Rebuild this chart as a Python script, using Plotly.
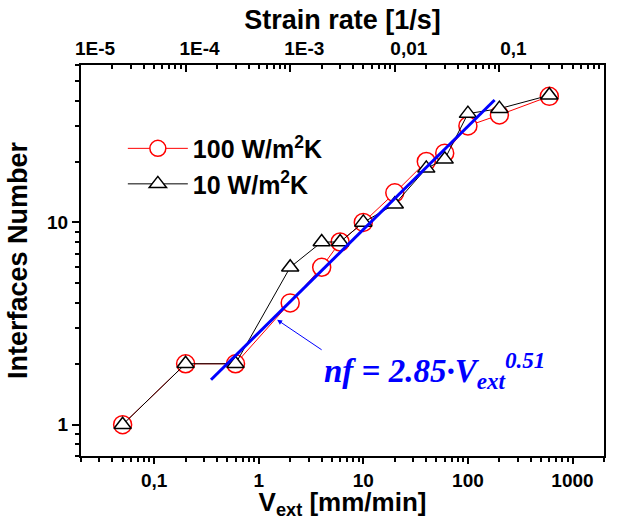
import math
import plotly.graph_objects as go

# ---- data ----
V = [0.05, 0.2, 0.6, 2, 4, 6, 10, 20, 40, 60, 100, 200, 600]
n_100 = [1, 2, 2, 4, 6, 8, 10, 14, 20, 22, 30, 34, 42]
n_10 = [1, 2, 2, 6, 8, 8, 10, 12.3, 18.5, 20.5, 34.5, 36.5, 42.5]

fit_a = 2.85
fit_b = 0.51
fit_V = [0.35, 180]
fit_n = [fit_a * v ** fit_b for v in fit_V]

bottom_ticks = [0.1, 1, 10, 100, 1000]
bottom_labels = ["0,1", "1", "10", "100", "1000"]
top_ticks = [1e-5, 1e-4, 1e-3, 1e-2, 1e-1, 1]
top_labels = ["1E-5", "1E-4", "1E-3", "0,01", "0,1", "1"]
y_ticks = [1, 10]
y_labels = ["1", "10"]

x_range = [0.02, 2000]
top_range = [1e-5, 1]
y_range = [0.7, 60]


def minor_vals(lo, hi):
    out = []
    e = math.floor(math.log10(lo))
    while 10 ** e <= hi:
        for k in range(2, 10):
            v = k * 10 ** e
            if lo * 0.999 <= v <= hi * 1.001:
                out.append(v)
        e += 1
    return out


FONT = "Liberation Sans"
tickfont = dict(family=FONT, size=19, color="black", weight="bold")
titlefont = dict(family=FONT, size=27, color="black", weight="bold")

fig = go.Figure()
fig.add_trace(go.Scatter(
    x=V, y=n_100, mode="lines+markers", name="100 W/m<sup>2</sup>K",
    line=dict(color="red", width=1),
    marker=dict(symbol="circle", size=18, color="white",
                line=dict(color="red", width=1.5)),
))
fig.add_trace(go.Scatter(
    x=V, y=n_10, mode="lines+markers", name="10 W/m<sup>2</sup>K",
    line=dict(color="black", width=1),
    marker=dict(symbol="triangle-up", size=15, color="white",
                line=dict(color="black", width=1.5)),
))
fig.add_trace(go.Scatter(
    x=fit_V, y=fit_n, mode="lines", showlegend=False,
    line=dict(color="blue", width=3), hoverinfo="skip",
))
# invisible trace to carry the top axis
fig.add_trace(go.Scatter(
    x=top_range, y=[1, 1], xaxis="x2", mode="markers", opacity=0,
    showlegend=False, hoverinfo="skip",
))

common_axis = dict(
    showgrid=False, zeroline=False, showline=True, linecolor="black",
    linewidth=2, tickcolor="black", tickwidth=1.5, tickfont=tickfont,
    automargin=False,
)

fig.update_layout(
    width=618, height=520,
    margin=dict(l=81, r=14, t=65, b=64),
    paper_bgcolor="white", plot_bgcolor="white",
    xaxis=dict(
        type="log", range=[math.log10(x_range[0]), math.log10(x_range[1])],
        tickvals=bottom_ticks, ticktext=bottom_labels, ticks="outside",
        ticklen=6,
        minor=dict(tickvals=minor_vals(*x_range), ticks="outside", ticklen=4,
                   tickwidth=1.5, tickcolor="black"),
        title=dict(text="V<sub>ext</sub> [mm/min]", font=dict(titlefont, size=26), standoff=7),
        **common_axis,
    ),
    xaxis2=dict(
        type="log", range=[math.log10(top_range[0]), math.log10(top_range[1])],
        overlaying="x", side="top", anchor="y",
        tickvals=top_ticks, ticktext=top_labels, ticks="inside", ticklen=7,
        ticklabelshift=14,
        minor=dict(tickvals=minor_vals(*top_range), ticks="inside", ticklen=4,
                   tickwidth=1.5, tickcolor="black"),
        title=dict(text="Strain rate [1/s]", font=titlefont, standoff=1),
        **common_axis,
    ),
    yaxis=dict(
        type="log", range=[math.log10(y_range[0]), math.log10(y_range[1])],
        tickvals=y_ticks, ticktext=y_labels, ticks="outside", ticklen=7,
        mirror=True,
        minor=dict(tickvals=minor_vals(*y_range), ticks="outside", ticklen=4,
                   tickwidth=1.5, tickcolor="black"),
        title=dict(text="Interfaces Number", font=titlefont, standoff=12),
        **common_axis,
    ),
    legend=dict(
        x=0.08, y=0.845, xanchor="left", yanchor="top",
        bgcolor="rgba(0,0,0,0)",
        font=dict(family=FONT, size=25, color="black", weight="bold"),
        tracegroupgap=0, itemwidth=60,
    ),
    annotations=[
        dict(
            x=math.log10(1.5), y=math.log10(3.3), xref="x", yref="y",
            text="", showarrow=True, ax=46, ay=31, arrowcolor="blue",
            arrowwidth=1, arrowhead=2, arrowsize=1,
        ),
        dict(
            x=math.log10(4.0), y=math.log10(1.85), xref="x", yref="y",
            xanchor="left", yanchor="middle", showarrow=False,
            text="<b><i>nf = 2.85·V<sub>ext</sub><sup>0.51</sup></i></b>",
            font=dict(family="Liberation Serif", size=33, color="blue"),
        ),
    ],
)

fig.write_html("out.html")
